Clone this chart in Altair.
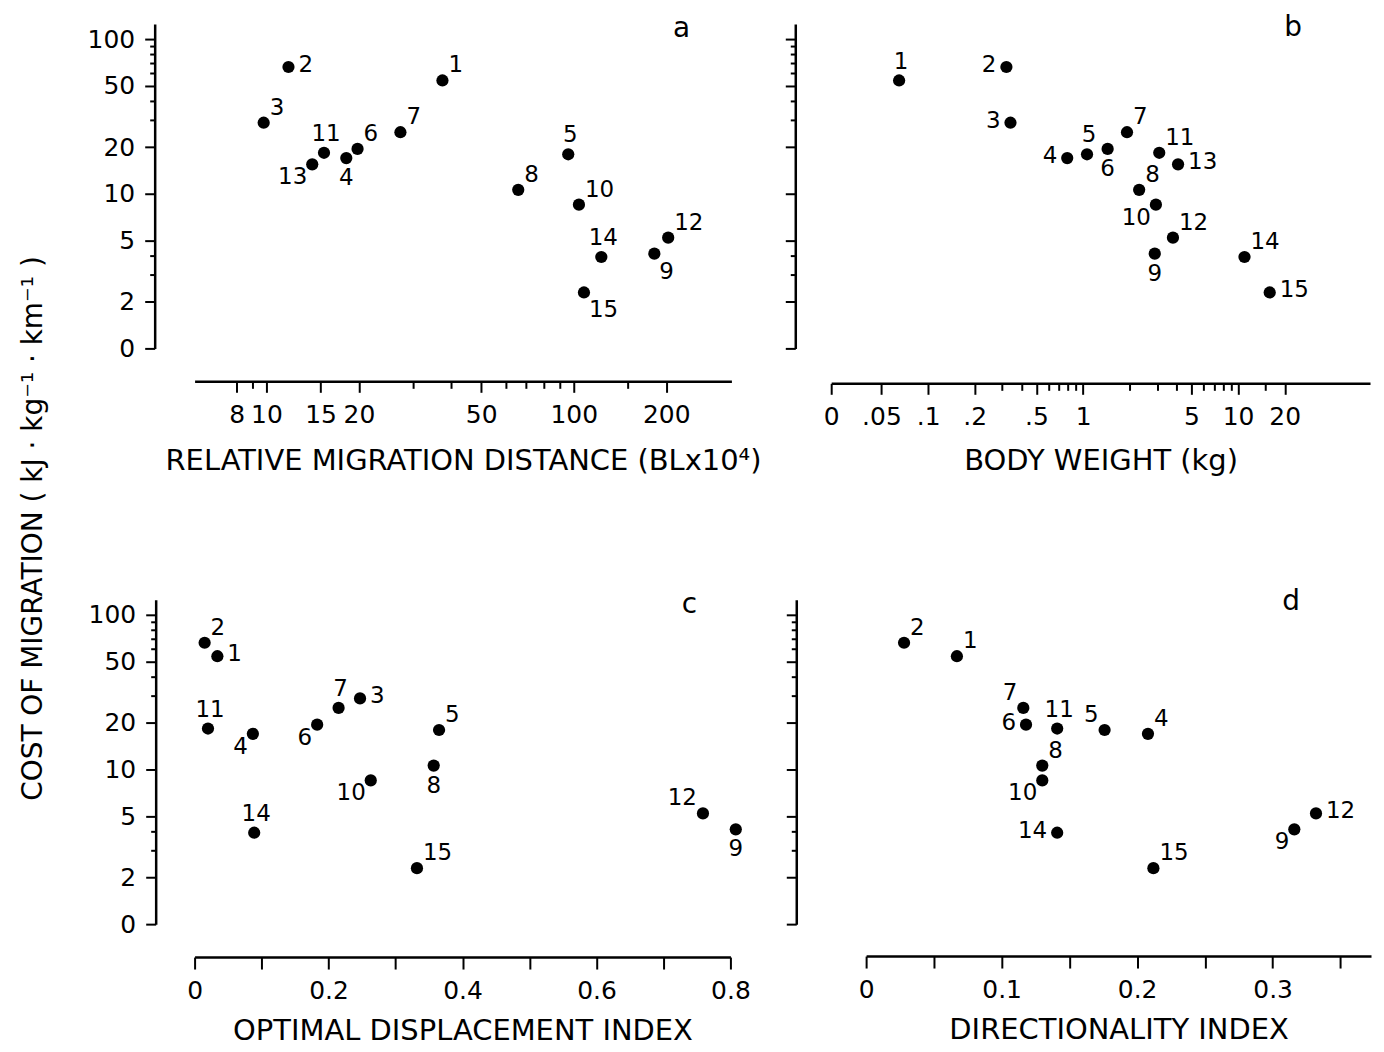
import altair as alt
import pandas as pd

FONT = "DejaVu Sans"

# ---------------- data ----------------
species = list(range(1, 16))
cost = [54, 66, 28.8, 17, 18, 19.5, 25, 10.6, 4.1, 8.5, 18.4, 5.2, 15.5, 3.9, 2.3]
rel_distance = [37.4, 11.8, 9.8, 18.2, 96, 19.8, 27.3, 66, 183, 104, 15.4, 203, 14.1, 123, 108]
body_weight = [0.065, 0.32, 0.34, 0.79, 1.06, 1.44, 1.92, 2.3, 2.9, 2.95, 3.1, 3.8, 4.1, 11, 16]
opt_displacement = [0.034, 0.015, 0.247, 0.087, 0.365, 0.183, 0.215, 0.357, 0.808, 0.263,
                    0.020, 0.759, None, 0.089, 0.332]
directionality = [0.067, 0.028, None, 0.208, 0.176, 0.118, 0.116, 0.130, 0.316, 0.130,
                  0.141, 0.332, None, 0.141, 0.212]

# where each species number sits relative to its dot
side_a = ["ur", "r", "ur", "d", "u", "ur", "ur", "ur", "dr", "ur", "u", "ur", "dl", "u", "dr"]
side_b = ["u", "l", "l", "l", "u", "d", "ur", "ur", "d", "dl", "ur", "ur", "r", "ur", "r"]
side_c = ["r", "ur", "r", "dl", "ur", "dl", "u", "d", "d", "dl", "u", "ul", None, "u", "ur"]
side_d = ["ur", "ur", None, "ur", "ul", "l", "ul", "ur", "dl", "dl", "u", "r", None, "l", "ur"]

# tick values
cost_ticks = [1, 2, 3, 4, 5, 10, 20, 30, 40, 50, 60, 70, 80, 90, 100]
cost_labelled = [1, 2, 5, 10, 20, 50, 100]
dist_ticks = [8, 9, 10, 15, 20, 30, 40, 50, 60, 70, 80, 90, 100, 150, 200]
dist_labelled = [8, 10, 15, 20, 50, 100, 200]
weight_ticks = [0.0237, 0.05, 0.1, 0.2, 0.3, 0.4, 0.5, 0.6, 0.7, 0.8, 0.9,
                1, 2, 3, 4, 5, 6, 7, 8, 9, 10, 15, 20]
weight_labelled = [0.0237, 0.05, 0.1, 0.2, 0.5, 1, 5, 10, 20]
odi_ticks = [0, 0.1, 0.2, 0.3, 0.4, 0.5, 0.6, 0.7, 0.8]
dir_ticks = [0, 0.05, 0.1, 0.15, 0.2, 0.25, 0.3, 0.35]

# ---------------- styling ----------------
POS = {
    "r": dict(align="left", baseline="middle", dx=10, dy=-2),
    "l": dict(align="right", baseline="middle", dx=-10, dy=-2),
    "u": dict(align="center", baseline="alphabetic", dx=2, dy=-12),
    "d": dict(align="center", baseline="top", dx=0, dy=9),
    "ur": dict(align="left", baseline="alphabetic", dx=6, dy=-8),
    "ul": dict(align="right", baseline="alphabetic", dx=-6, dy=-8),
    "dr": dict(align="left", baseline="top", dx=5, dy=7),
    "dl": dict(align="right", baseline="top", dx=-5, dy=2),
}

AX = dict(grid=False, domainColor="black", domainWidth=2.5, tickColor="black", tickWidth=2,
          labelColor="black", labelFont=FONT, labelFontSize=25, labelOverlap=False,
          labelFlush=False, titleFont=FONT, titleFontSize=29, titleColor="black",
          titleFontWeight="normal")


def cond_size(vals, big, small):
    return {"condition": {"test": "indexof(%s, datum.value) >= 0" % str(vals), "value": big},
            "value": small}


ylab = "datum.value == 1 ? '0' : (indexof(%s, datum.value) >= 0 ? '' + datum.value : '')" % str(cost_labelled)
yscale = alt.Scale(type="log", domain=[1, 125], nice=False)


def y_axis(offset, labels, title=None):
    kw = dict(AX)
    kw.update(values=cost_ticks, tickSize=cond_size(cost_labelled, 10, 5), offset=offset)
    if labels:
        kw.update(labelExpr=ylab, labelPadding=10)
    else:
        kw.update(labels=False)
    if title:
        kw.update(title=title, titleX=-121, titleY=505, titleAngle=-90,
                  titleAlign="center", titleBaseline="middle", titleFontSize=28)
    else:
        kw.update(title=None)
    return alt.Axis(**kw)


def x_axis(values, label_expr, tick_size, offset, title, title_pad):
    kw = dict(AX)
    kw.update(values=values, labelExpr=label_expr, tickSize=tick_size, labelPadding=10,
              offset=offset, title=title, titlePadding=title_pad)
    return alt.Axis(**kw)


def panel(xvals, sides, xscale, xaxis, yaxis, letter, letter_xy, width):
    df = pd.DataFrame({"sp": species, "x": xvals, "cost": cost, "side": sides}).dropna(subset=["x"])
    base = alt.Chart(df).encode(
        x=alt.X("x:Q", scale=xscale, axis=xaxis),
        y=alt.Y("cost:Q", scale=yscale, axis=yaxis),
    )
    layers = [base.mark_circle(size=150, color="black", opacity=1)]
    present = set(df["side"].dropna())
    for code, kw in POS.items():
        if code in present:
            layers.append(
                base.transform_filter(alt.datum.side == code)
                .mark_text(font=FONT, fontSize=23, color="black", **kw)
                .encode(text="sp:N")
            )
    layers.append(
        alt.Chart(pd.DataFrame({"t": [letter]}))
        .mark_text(font=FONT, fontSize=28, color="black", align="center", baseline="middle")
        .encode(text="t:N", x=alt.value(letter_xy[0]), y=alt.value(letter_xy[1]))
    )
    return alt.layer(*layers).properties(width=width, height=325)


pa = panel(
    rel_distance, side_a,
    alt.Scale(type="log", domain=[5.84, 326], nice=False),
    x_axis(dist_ticks,
           "indexof(%s, datum.value) >= 0 ? '' + datum.value : ''" % str(dist_labelled),
           cond_size(dist_labelled, 11, 7), 33, "RELATIVE MIGRATION DISTANCE (BLx10⁴)", 19),
    y_axis(40, True, "COST OF MIGRATION ( kJ · kg⁻¹ · km⁻¹ )"),
    "a", (488, 5), 538,
)

wlab = ("datum.value < 0.03 ? '0' : datum.value == 0.05 ? '.05' : datum.value == 0.1 ? '.1' : "
        "datum.value == 0.2 ? '.2' : datum.value == 0.5 ? '.5' : "
        "(indexof([1, 5, 10, 20], datum.value) >= 0 ? '' + datum.value : '')")
pb = panel(
    body_weight, side_b,
    alt.Scale(type="log", domain=[0.0237, 71], nice=False),
    x_axis(weight_ticks, wlab, cond_size(weight_labelled, 11, 7), 35, "BODY WEIGHT (kg)", 17),
    y_axis(36, False),
    "b", (463, 4), 540,
)

pc = panel(
    opt_displacement, side_c,
    alt.Scale(domain=[0, 0.8], nice=False, zero=False),
    x_axis(odi_ticks,
           "datum.value == 0 ? '0' : (round(datum.value * 10) % 2 == 0 ? format(datum.value, '.1f') : '')",
           12, 33, "OPTIMAL DISPLACEMENT INDEX", 13),
    y_axis(39, True),
    "c", (496, 5), 537,
)

pdd = panel(
    directionality, side_d,
    alt.Scale(domain=[0, 0.3726], range=[35, 541], nice=False, zero=False),
    x_axis(dir_ticks,
           "datum.value == 0 ? '0' : (round(datum.value * 20) % 2 == 0 ? format(datum.value, '.1f') : '')",
           12, 32, "DIRECTIONALITY INDEX", 13),
    y_axis(35, False),
    "d", (461, 2), 541,
)

chart = (
    alt.concat(pa, pb, pc, pdd, columns=2, spacing={"row": 252, "column": 100}, bounds="flush",
               padding={"left": 12, "top": 5, "right": 5, "bottom": 5})
    .configure(background="white", view={"stroke": None})
)

chart.save("out.html", embed_options={"renderer": "svg", "actions": False})
